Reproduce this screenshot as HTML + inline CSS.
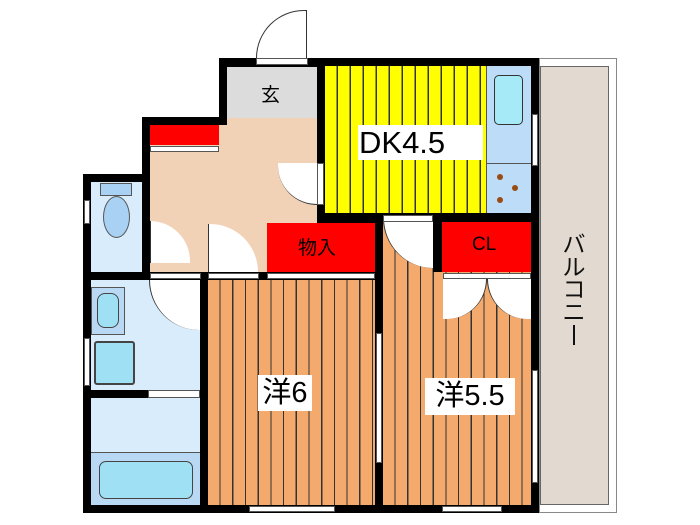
<!DOCTYPE html>
<html><head><meta charset="utf-8"><style>
body{margin:0;width:700px;height:525px;background:#fff;position:relative;overflow:hidden;font-family:"Liberation Sans","Noto Sans CJK JP",sans-serif}
div{position:absolute;box-sizing:border-box}
.b{background:#000}
.yel{background:repeating-linear-gradient(90deg,#ffff00 0 11.5px,#333 11.5px 13px)}
.org{background:repeating-linear-gradient(90deg,#f4aa6c 0 11.5px,#333 11.5px 12.7px)}
.red{background:#ff0000}
.lab{background:#fff;color:#000;text-align:center}
.win{background:#fff;border:1px solid #555}
</style></head><body>
<div class="b" style="left:219px;top:58px;width:320px;height:60px"></div>
<div class="b" style="left:142px;top:117px;width:397px;height:60px"></div>
<div class="b" style="left:83px;top:174px;width:456px;height:339px"></div>
<!-- balcony -->
<div style="left:539px;top:58px;width:78px;height:455px;border:1px solid #888;background:#fff"></div>
<div style="left:540px;top:66px;width:69px;height:439px;border:1px solid #666;background:#e2d9d0"></div>
<div style="left:558px;top:233px;width:32px;font-size:23px;line-height:22.5px;text-align:center;color:#111">バ<br>ル<br>コ<br>ニ</div>
<div style="left:573px;top:325px;width:2px;height:20px;background:#111"></div>
<!-- genkan -->
<div style="left:227px;top:67px;width:90px;height:53px;background:#dcdcdc"></div>
<div style="left:261px;top:80px;font-size:19px">玄</div>
<!-- hall -->
<div style="left:150px;top:125px;width:167px;height:147px;background:#f2d2b6"></div>
<div style="left:227px;top:118px;width:90px;height:10px;background:#f2d2b6"></div>
<div class="red" style="left:150px;top:125px;width:69px;height:20px"></div>
<div class="win" style="left:150px;top:146px;width:69px;height:6px"></div>
<!-- toilet -->
<div style="left:91px;top:182px;width:51px;height:90px;background:#d8ecfb"></div>
<div style="left:100px;top:183px;width:32px;height:13px;background:#a9d1f3;border:1px solid #555"></div>
<div style="left:103px;top:196px;width:27px;height:42px;border-radius:50%;background:#a9d1f3;border:1px solid #555"></div>
<div class="win" style="left:84px;top:200px;width:6px;height:24px"></div>
<!-- wash -->
<div style="left:91px;top:280px;width:109px;height:110px;background:#d8ecfb"></div>
<div style="left:91px;top:287px;width:34px;height:48px;background:#b8d8f3;border:1px solid #555"></div>
<div style="left:97px;top:293px;width:22px;height:35px;background:#9fe0f5;border:1px solid #444;border-radius:8px"></div>
<div style="left:94px;top:341px;width:41px;height:44px;background:#9fe0f5;border:2px double #444;border-radius:3px"></div>
<div class="win" style="left:84px;top:338px;width:6px;height:48px"></div>
<div style="left:149px;top:280px;width:51px;height:50px;background:#fff;border-left:1px solid #333;border-radius:0 0 0 50px"></div>
<!-- bath -->
<div style="left:91px;top:398px;width:109px;height:107px;background:#d8ecfb"></div>
<div style="left:148px;top:390px;width:52px;height:8px;background:#fff;border:1px solid #555"></div>
<div style="left:91px;top:452px;width:109px;height:53px;background:#b8d8f3;border-top:1px solid #555"></div>
<div style="left:99px;top:461px;width:94px;height:38px;background:#9fe0f5;border:1px solid #444;border-radius:7px"></div>
<!-- hall doors -->
<div style="left:150px;top:221px;width:40px;height:42px;background:#fff;border-left:1px solid #333;border-radius:0 42px 0 0"></div>
<div style="left:208px;top:224px;width:50px;height:48px;background:#fff;border-left:1px solid #333;border-radius:0 48px 0 0"></div>
<div style="left:278px;top:163px;width:39px;height:42px;background:#fff;border-radius:42px 0 0 42px / 0 0 42px 42px;border-bottom:1px solid #333"></div>
<div class="win" style="left:317px;top:163px;width:7px;height:42px"></div>
<div class="win" style="left:150px;top:273px;width:51px;height:6px"></div>
<div class="win" style="left:208px;top:273px;width:51px;height:6px"></div>
<!-- DK -->
<div class="yel" style="left:325px;top:66px;width:161px;height:147px"></div>
<div class="lab" style="left:358px;top:125px;width:125px;height:35px;font-size:31px;line-height:36px;text-align:left;padding-left:1px">DK4.5</div>
<div style="left:486px;top:66px;width:45px;height:147px;background:#bcdcf7;border-left:1px solid #555"></div>
<div style="left:486px;top:163px;width:45px;height:1px;background:#555"></div>
<div style="left:494px;top:75px;width:29px;height:50px;background:#a6eaf7;border:1px solid #333;border-radius:5px"></div>
<div style="left:497px;top:174px;width:6px;height:6px;border-radius:50%;background:#9a4b12"></div>
<div style="left:512px;top:185px;width:6px;height:6px;border-radius:50%;background:#9a4b12"></div>
<div style="left:497px;top:197px;width:6px;height:6px;border-radius:50%;background:#9a4b12"></div>
<div class="win" style="left:532px;top:114px;width:6px;height:52px"></div>
<!-- storage -->
<div class="red" style="left:267px;top:223px;width:108px;height:49px"></div>
<div style="left:298px;top:233px;font-size:19px">物入</div>
<div class="win" style="left:267px;top:273px;width:108px;height:6px"></div>
<!-- room6 -->
<div class="org" style="left:208px;top:280px;width:167px;height:225px"></div>
<div class="lab" style="left:258px;top:375px;width:54px;height:36px;font-size:29px;line-height:36px">洋6</div>
<div class="win" style="left:376px;top:333px;width:6px;height:130px"></div>
<div class="win" style="left:249px;top:506px;width:86px;height:6px"></div>
<!-- room5.5 -->
<div class="org" style="left:383px;top:222px;width:148px;height:283px"></div>
<div style="left:383px;top:215px;width:50px;height:53px;background:#fff;border-radius:0 0 0 50px;border-left:1px solid #333"></div>
<div class="win" style="left:383px;top:215px;width:50px;height:7px"></div>
<div class="red" style="left:442px;top:222px;width:89px;height:50px"></div>
<div style="left:433px;top:222px;width:9px;height:50px;background:#000"></div>
<div style="left:472px;top:234px;font-size:19px">CL</div>
<div class="win" style="left:443px;top:273px;width:88px;height:6px"></div>
<div style="left:443px;top:279px;width:44px;height:40px;background:#fff;border-right:1px solid #333;border-radius:0 0 44px 0"></div>
<div style="left:487px;top:279px;width:44px;height:40px;background:#fff;border-left:1px solid #333;border-radius:0 0 0 44px"></div>
<div class="lab" style="left:425px;top:378px;width:90px;height:37px;font-size:29px;line-height:37px">洋5.5</div>
<div class="win" style="left:532px;top:370px;width:6px;height:113px"></div>
<div class="win" style="left:442px;top:506px;width:60px;height:6px"></div>
<!-- entrance door -->
<div class="win" style="left:256px;top:58px;width:52px;height:7px"></div>
<div style="left:256px;top:10px;width:51px;height:48px;border-top:1px solid #333;border-left:1px solid #333;border-right:1px solid #333;border-radius:51px 0 0 0;background:#fff"></div>
</body></html>
